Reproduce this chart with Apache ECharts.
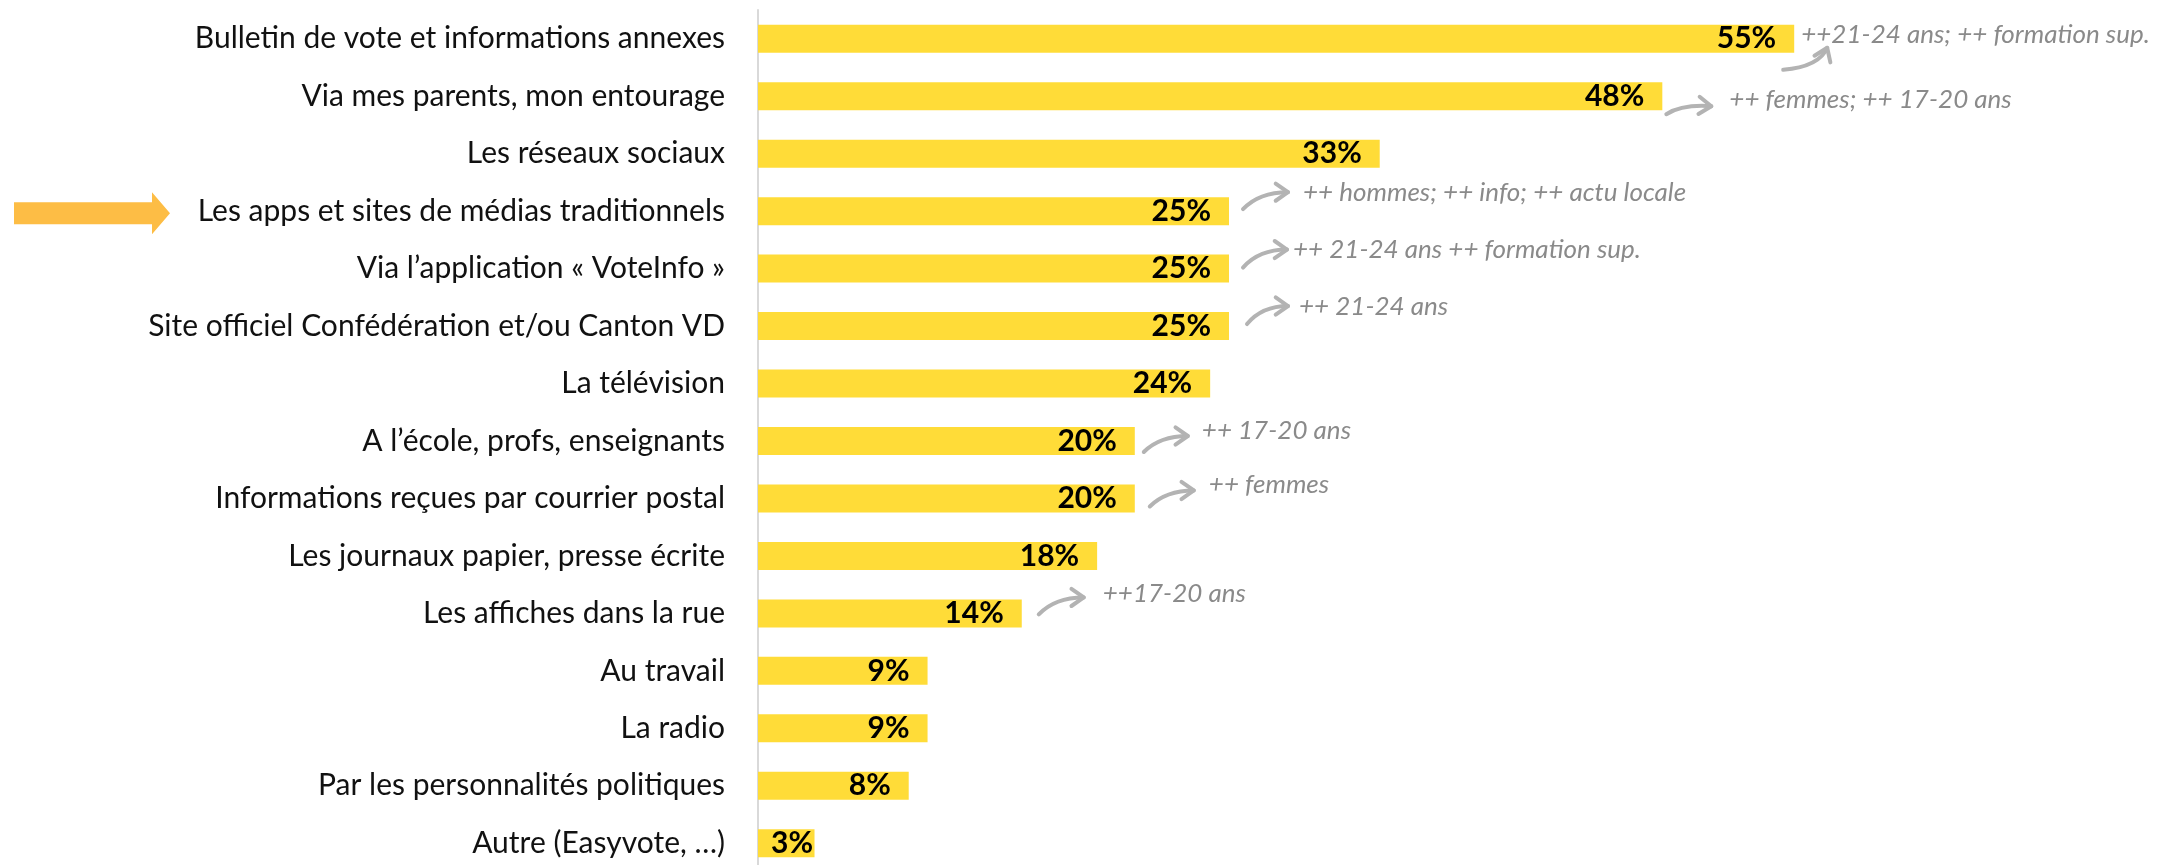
<!DOCTYPE html>
<html>
<head>
<meta charset="utf-8">
<script src="https://cdn.jsdelivr.net/npm/echarts@6/dist/echarts.min.js"></script>
<style>
  html, body { margin: 0; padding: 0; background: #fff; }
  #chart { width: 2184px; height: 865px; }
</style>
</head>
<body>
<div id="chart"></div>
<script>
// données
var categories = [
  'Bulletin de vote et informations annexes',
  'Via mes parents, mon entourage',
  'Les réseaux sociaux',
  'Les apps et sites de médias traditionnels',
  'Via l\u2019application « VoteInfo »',
  'Site officiel Confédération et/ou Canton VD',
  'La télévision',
  'A l\u2019école, profs, enseignants',
  'Informations reçues par courrier postal',
  'Les journaux papier, presse écrite',
  'Les affiches dans la rue',
  'Au travail',
  'La radio',
  'Par les personnalités politiques',
  'Autre (Easyvote, \u2026)'
];
var values = [55, 48, 33, 25, 25, 25, 24, 20, 20, 18, 14, 9, 9, 8, 3];
var notes = [
  '++21-24 ans; ++ formation sup.',
  '++ femmes; ++ 17-20 ans',
  '',
  '++ hommes; ++ info; ++ actu locale',
  '++ 21-24 ans ++ formation sup.',
  '++ 21-24 ans',
  '',
  '++ 17-20 ans',
  '++ femmes',
  '',
  '++17-20 ans',
  '', '', '', ''
];
var highlighted = 'Les apps et sites de médias traditionnels';

// placement des flèches grises (décalages en px depuis le bout de la barre)
var noteLayout = {
  0:  { tail: [-11, 31], ctrl: [25, 28], head: [33, 9], text: [7, -4] },
  1:  { tail: [4, 18], ctrl: [20, 8], head: [49, 10], text: [67, 3] },
  3:  { tail: [14, -2], ctrl: [30, -19], head: [59, -19], text: [74, -19] },
  4:  { tail: [14, -1], ctrl: [30, -19], head: [58, -19], text: [64, -19] },
  5:  { tail: [18, -2], ctrl: [33, -20], head: [59, -20], text: [70, -19] },
  7:  { tail: [9, 11], ctrl: [25, -5], head: [53, -5], text: [67, -10] },
  8:  { tail: [15, 8], ctrl: [31, -8], head: [59, -8], text: [74, -14] },
  10: { tail: [17, 1], ctrl: [33, -16], head: [62, -16], text: [81, -20] }
};

var noteData = [];
for (var i = 0; i < notes.length; i++) {
  if (notes[i]) noteData.push([values[i], i, notes[i]]);
}

var barData = values.map(function (v) {
  if (v < 5) return { value: v, label: { position: 'insideLeft', distance: 13 } };
  return v;
});

function renderNote(params, api) {
  var idx = api.value(1);
  var lay = noteLayout[idx];
  var p = api.coord([api.value(0), idx]);
  var t = [p[0] + lay.tail[0], p[1] + lay.tail[1]];
  var c = [p[0] + lay.ctrl[0], p[1] + lay.ctrl[1]];
  var h = [p[0] + lay.head[0], p[1] + lay.head[1]];
  var dx = h[0] - c[0], dy = h[1] - c[1];
  var len = Math.sqrt(dx * dx + dy * dy);
  dx /= len; dy /= len;
  var a = 35 * Math.PI / 180, L = 15;
  function arm(s) {
    var ca = Math.cos(s * a), sa = Math.sin(s * a);
    var rx = -(dx * ca - dy * sa), ry = -(dx * sa + dy * ca);
    return [h[0] + rx * L, h[1] + ry * L];
  }
  var grey = '#b3b3b3';
  return {
    type: 'group',
    children: [
      {
        type: 'bezierCurve',
        shape: { x1: t[0], y1: t[1], cpx1: c[0], cpy1: c[1], x2: h[0], y2: h[1] },
        style: { stroke: grey, lineWidth: 4, fill: null, lineCap: 'round' }
      },
      {
        type: 'polyline',
        shape: { points: [arm(1), h, arm(-1)] },
        style: { stroke: grey, lineWidth: 4, fill: null, lineCap: 'round', lineJoin: 'round' }
      },
      {
        type: 'text',
        x: p[0] + lay.text[0],
        y: p[1] + lay.text[1],
        style: {
          text: notes[idx],
          fill: '#8a8a8a',
          font: 'italic 26px Lato',
          verticalAlign: 'middle',
          align: 'left'
        }
      }
    ]
  };
}

var myChart = echarts.init(document.getElementById('chart'));
var option = {
  animation: false,
  grid: { left: 758, top: 10, right: 13, height: 862, containLabel: false, outerBoundsMode: 'none' },
  xAxis: { type: 'value', min: 0, max: 75, show: false },
  yAxis: {
    type: 'category',
    data: categories,
    inverse: true,
    axisTick: { show: false },
    axisLine: { show: true, lineStyle: { color: '#d9d9d9', width: 2 } },
    axisLabel: { fontFamily: 'Lato', fontSize: 30, color: '#111', margin: 33 }
  },
  series: [
    {
      type: 'bar',
      data: barData,
      barWidth: 28,
      itemStyle: { color: '#FFDC38' },
      label: {
        show: true,
        position: 'insideRight',
        distance: 18,
        formatter: '{c}%',
        fontFamily: 'Lato',
        fontWeight: 'bold',
        fontSize: 30,
        color: '#000'
      }
    },
    {
      type: 'custom',
      data: noteData,
      encode: { x: 0, y: 1 },
      renderItem: renderNote,
      clip: false,
      silent: true,
      z: 5
    }
  ]
};
myChart.setOption(option);

// flèche orange devant la catégorie mise en avant
var yc = myChart.convertToPixel({ yAxisIndex: 0 }, highlighted) + 2;
myChart.setOption({
  graphic: [{
    type: 'polygon',
    shape: {
      points: [[14, yc - 11], [152, yc - 11], [152, yc - 21], [170, yc], [152, yc + 21], [152, yc + 11], [14, yc + 11]]
    },
    style: { fill: '#FDBD45' }
  }]
});
</script>
</body>
</html>
